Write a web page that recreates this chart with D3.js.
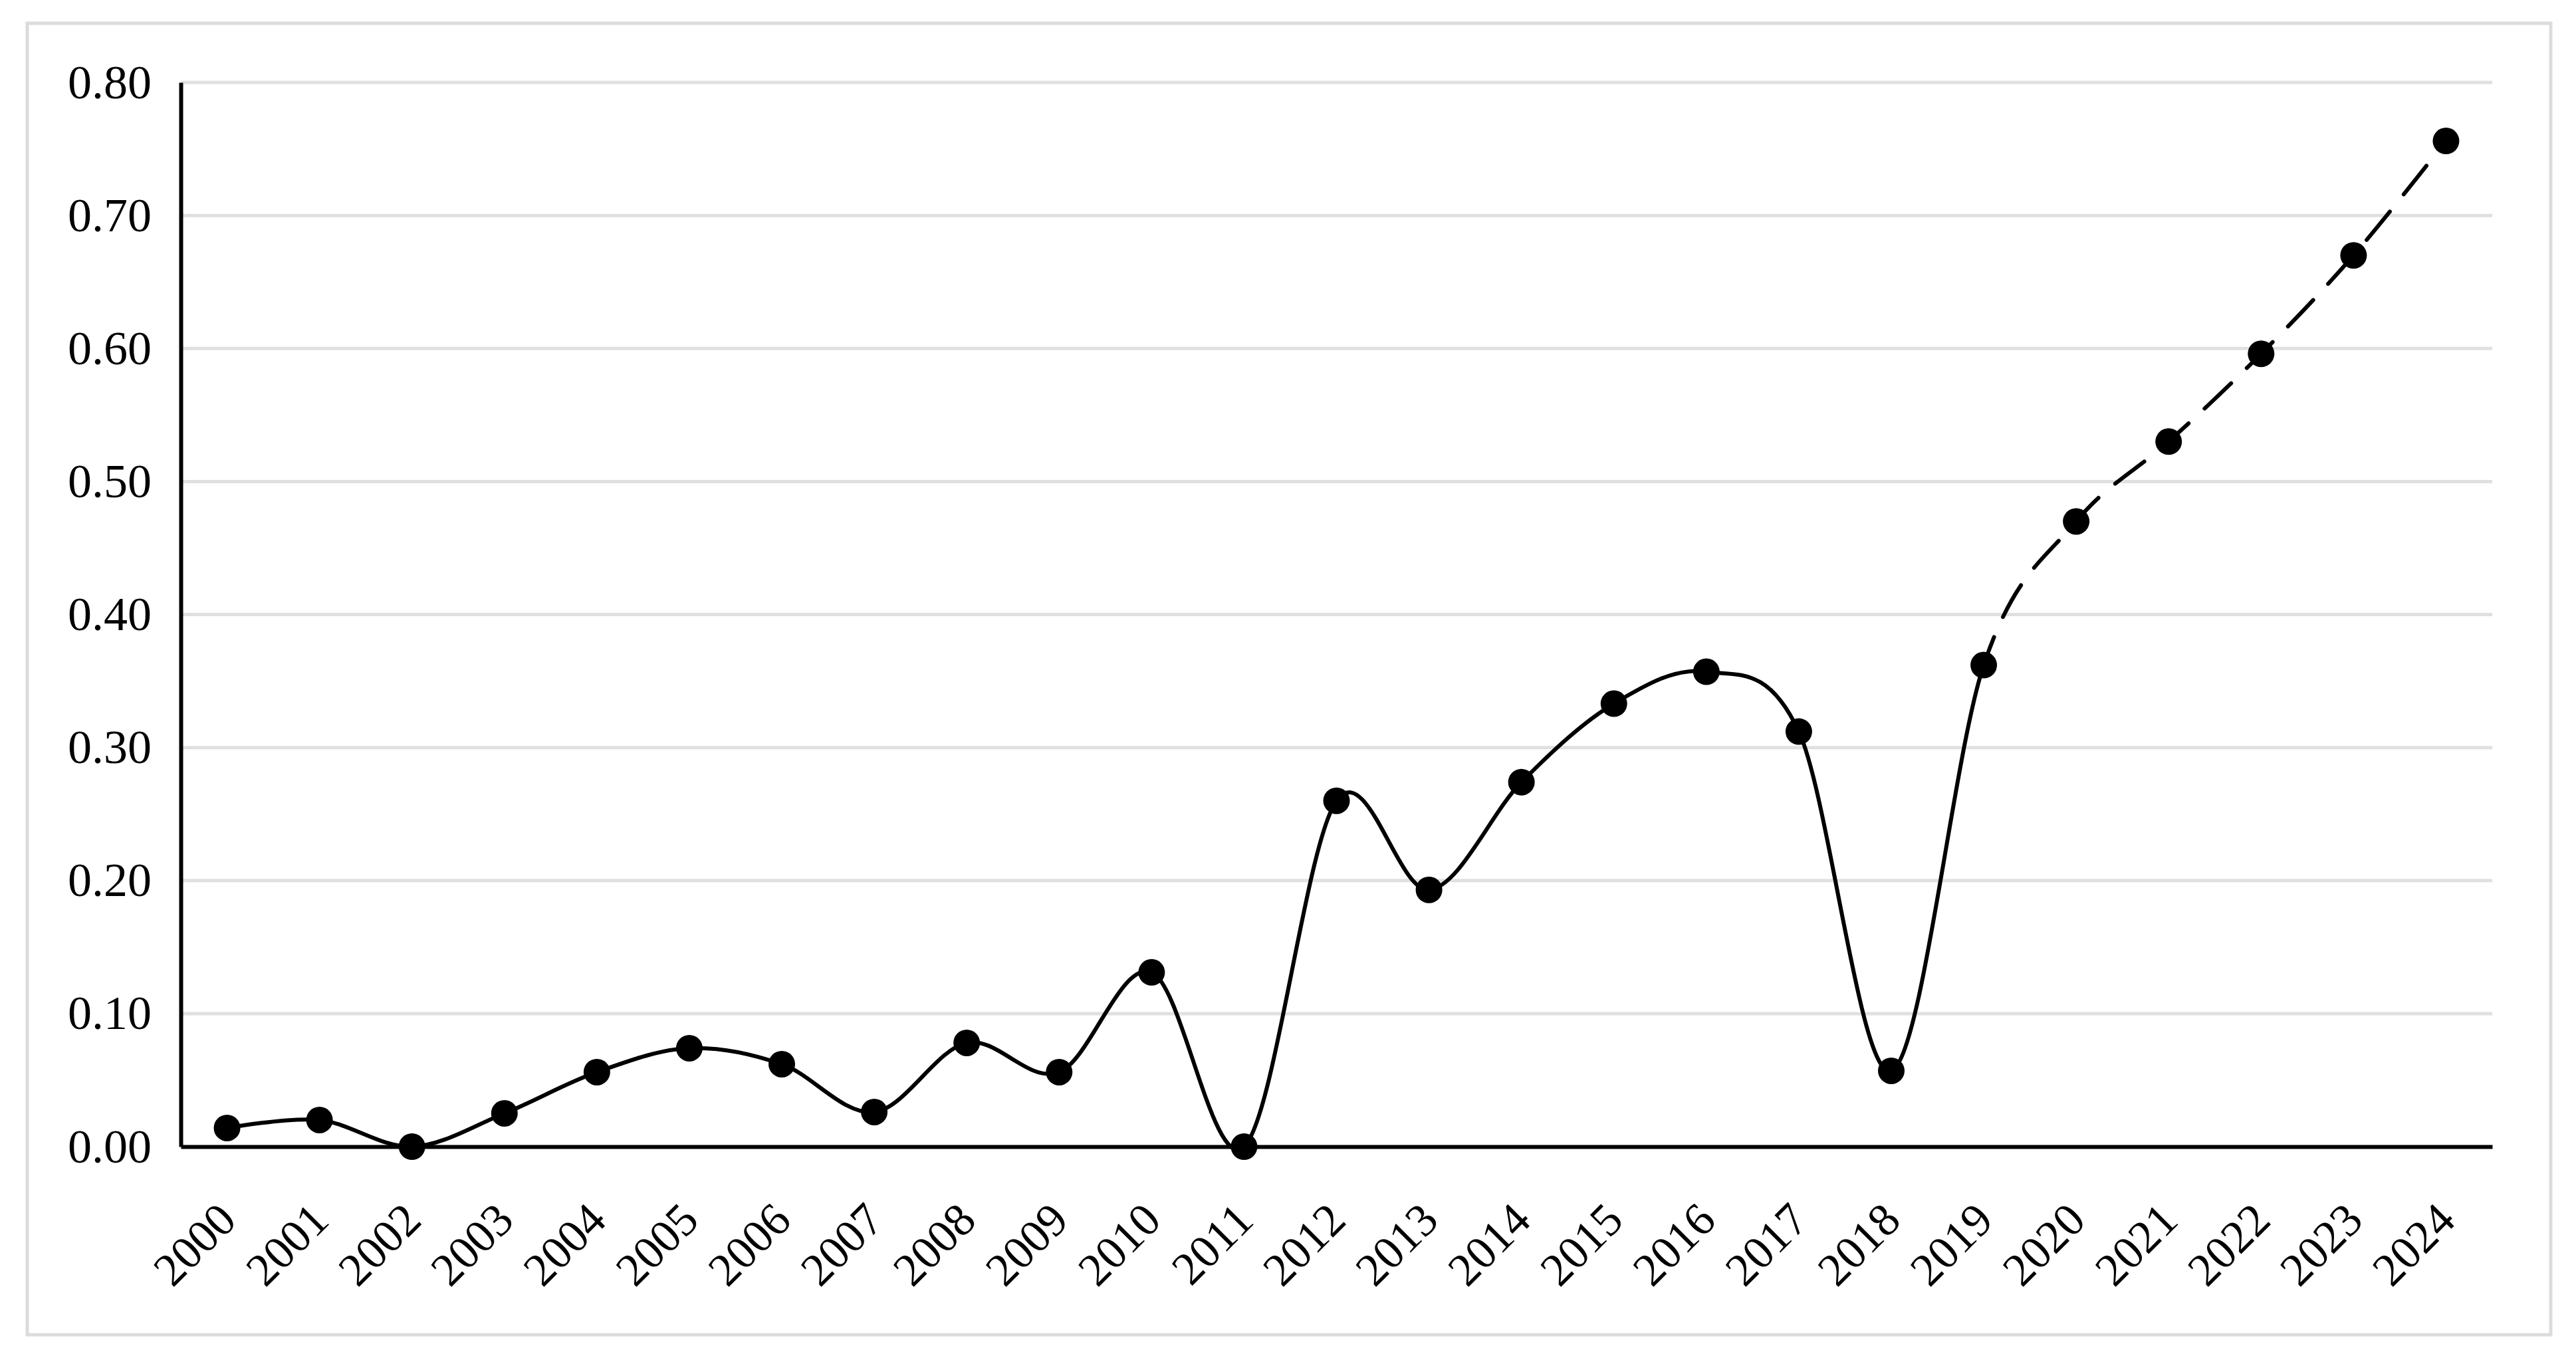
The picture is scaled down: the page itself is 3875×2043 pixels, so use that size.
<!DOCTYPE html>
<html>
<head>
<meta charset="utf-8">
<script src="https://cdn.jsdelivr.net/npm/d3@7"></script>
<style>
  body { margin: 0; background: #fff; }
  text { font-family: "Liberation Serif", "Times New Roman", serif; }
</style>
</head>
<body>
<div id="chart"></div>
<script>
// data
var years = ["2000","2001","2002","2003","2004","2005","2006","2007","2008","2009",
             "2010","2011","2012","2013","2014","2015","2016","2017","2018","2019",
             "2020","2021","2022","2023","2024"];
var values = [0.014, 0.020, 0.000, 0.025, 0.056, 0.074, 0.062, 0.026, 0.078, 0.056,
              0.131, 0.000, 0.260, 0.193, 0.274, 0.333, 0.357, 0.312, 0.057, 0.362,
              0.470, 0.530, 0.596, 0.670, 0.756];
var forecastFrom = "2019"; // dashed after this year
var yTicks = [0, 0.1, 0.2, 0.3, 0.4, 0.5, 0.6, 0.7, 0.8];

var W = 3875, H = 2043;
var margin = {top: 124, right: 126, bottom: 318, left: 272},
    width = W - margin.left - margin.right,
    height = H - margin.top - margin.bottom;

var data = years.map(function(y, i) { return {year: y, value: values[i]}; });

var root = d3.select("#chart").append("svg")
    .attr("width", W)
    .attr("height", H);

root.append("rect")
    .attr("width", W).attr("height", H)
    .attr("fill", "#fff");

// outer frame
root.append("rect")
    .attr("x", 41).attr("y", 35)
    .attr("width", 3796).attr("height", 1973)
    .attr("fill", "none")
    .attr("stroke", "#dcdcdc")
    .attr("stroke-width", 5);

var svg = root.append("g")
    .attr("transform", "translate(" + margin.left + "," + margin.top + ")");

var x = d3.scaleBand()
    .domain(years)
    .range([0, width]);
var cx = function(d) { return x(d.year) + x.bandwidth() / 2; };

var y = d3.scaleLinear()
    .domain([0, 0.8])
    .range([height, 0]);

// gridlines
svg.append("g")
    .selectAll("line")
    .data(yTicks.filter(function(t) { return t > 0; }))
    .enter().append("line")
    .attr("x1", 0).attr("x2", width)
    .attr("y1", function(d) { return y(d); })
    .attr("y2", function(d) { return y(d); })
    .attr("stroke", "#e0e0e0")
    .attr("stroke-width", 5);

// Y axis
var yAxis = svg.append("g")
    .call(d3.axisLeft(y).tickValues(yTicks).tickFormat(d3.format(".2f")).tickSize(0).tickPadding(44));
yAxis.select(".domain").attr("stroke", "#000").attr("stroke-width", 6);
yAxis.selectAll("text").attr("font-size", 72).attr("fill", "#000");

// X axis
var xAxis = svg.append("g")
    .attr("transform", "translate(0," + height + ")")
    .call(d3.axisBottom(x).tickSize(0));
xAxis.select(".domain").attr("stroke", "#000").attr("stroke-width", 6);
xAxis.selectAll("text")
    .attr("font-size", 70)
    .attr("fill", "#000")
    .attr("x", 0).attr("y", 0).attr("dy", "0.35em")
    .attr("text-anchor", "end")
    .attr("transform", "translate(0,97) rotate(-45)");

// clip regions for solid / dashed part
var splitX = x(forecastFrom) + x.bandwidth() / 2;
var defs = root.append("defs");
defs.append("clipPath").attr("id", "clipSolid")
  .append("rect").attr("x", -50).attr("y", -100).attr("width", splitX + 50).attr("height", height + 200);
defs.append("clipPath").attr("id", "clipDash")
  .append("rect").attr("x", splitX).attr("y", -100).attr("width", width - splitX + 50).attr("height", height + 200);

var line = d3.line()
    .x(cx)
    .y(function(d) { return y(d.value); })
    .curve(d3.curveCatmullRom.alpha(0));

svg.append("path")
    .datum(data)
    .attr("clip-path", "url(#clipSolid)")
    .attr("fill", "none")
    .attr("stroke", "#000")
    .attr("stroke-width", 6)
    .attr("d", line);

svg.append("path")
    .datum(data.slice(years.indexOf(forecastFrom) - 1))
    .attr("clip-path", "url(#clipDash)")
    .attr("fill", "none")
    .attr("stroke", "#000")
    .attr("stroke-width", 6)
    .attr("stroke-linecap", "round")
    .attr("stroke-dasharray", "55,33")
    .attr("d", line);

// markers
svg.append("g")
    .selectAll("circle")
    .data(data)
    .enter().append("circle")
    .attr("cx", cx)
    .attr("cy", function(d) { return y(d.value); })
    .attr("r", 20)
    .attr("fill", "#000");
</script>
</body>
</html>
